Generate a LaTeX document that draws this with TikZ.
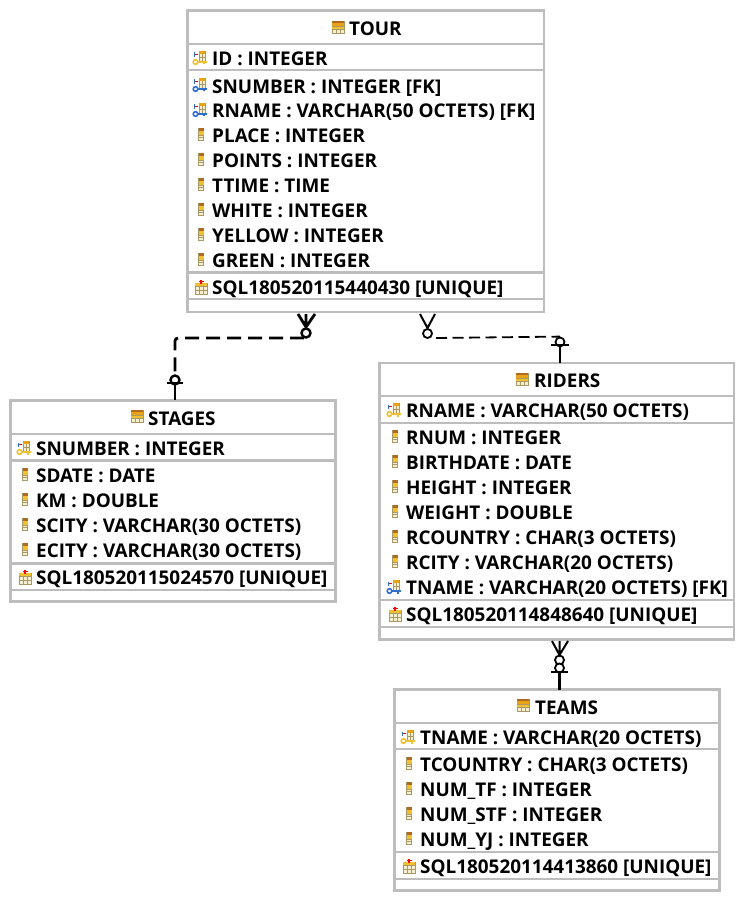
\documentclass[tikz,border=0pt]{standalone}
\usepackage{fontspec}
\setmainfont{Open Sans}
\usetikzlibrary{positioning,calc}
\definecolor{boxline}{HTML}{BDBDBD}
\definecolor{icoorange}{HTML}{E8A317}
\definecolor{icogold}{HTML}{F0C030}
\definecolor{icotan}{HTML}{A89868}
\definecolor{icopale}{HTML}{F6EFD0}
\definecolor{icobrown}{HTML}{B06A20}
\definecolor{icoblue}{HTML}{2F6FD0}
\tikzset{
  tablebox/.style={draw=boxline,line width=2.5pt,fill=white,anchor=north west,inner sep=0pt,outer sep=0pt},
  sepline/.style={draw=boxline,line width=2.2pt},
  title/.style={font=\bfseries\fontsize{18.9}{20}\selectfont,anchor=west,inner sep=0pt,text height=14pt,text depth=4pt,yshift=-2.6pt},
  rowtxt/.style={font=\bfseries\fontsize{18.9}{20}\selectfont,anchor=west,inner sep=0pt,text height=14pt,text depth=4pt,yshift=-2.6pt},
  cardcirc/.style={circle,draw=black,fill=white,inner sep=0pt,minimum size=9pt},
  pics/tableico/.style={code={
    \draw[icotan,fill=icopale,line width=.8pt] (-6,-6) rectangle (6,6);
    \fill[icobrown] (-6,-6) rectangle (6,-4);
    \fill[icoorange] (-6,-4) rectangle (6,-1);
    \fill[icogold] (-6,-1) rectangle (6,2);
    \draw[icotan,line width=.5pt] (-6,2) -- (6,2) (-6,-1) -- (6,-1) (-2,2) -- (-2,6) (2,2) -- (2,6);
  }},
  pics/colico/.style={code={
    \draw[icotan,fill=icopale,line width=.6pt] (-2.5,-6) rectangle (2.5,6);
    \fill[icobrown] (-2.5,-6) rectangle (2.5,-3);
    \fill[icogold] (-2.5,-3) rectangle (2.5,1);
    \draw[icotan,line width=.4pt] (-2.5,1) -- (2.5,1) (-2.5,3.5) -- (2.5,3.5);
  }},
  pics/keyico/.style={code={
    \draw[icotan,fill=icopale,line width=.7pt] (-1,-7) rectangle (5,3);
    \fill[icoorange] (-1,-7) rectangle (5,-4);
    \draw[icotan,line width=.4pt] (2,-4) -- (2,3) (-1,-1) -- (5,-1);
    \draw[red,line width=.8pt] (-6,-3.5) -- (-2,-3.5);
    \draw[icoblue,line width=.8pt] (-6,-5.5) -- (-6,-1);
    \draw[#1,line width=1.6pt] (-4.5,4) circle (2.3);
    \draw[#1,line width=1.8pt] (-2,4) -- (7,4) (4,4) -- (4,6.5);
  }},
  pics/uniqico/.style={code={
    \draw[icotan,fill=icopale,line width=.8pt] (-6,-4) rectangle (6,7);
    \fill[icogold] (-6,-4) rectangle (6,-1);
    \draw[icotan,line width=.5pt] (-6,-1) -- (6,-1) (-6,3) -- (6,3) (-2,-1) -- (-2,7) (2,-1) -- (2,7);
    \draw[red,line width=1.2pt] (0,-7.5) -- (0,-3) (-2.5,-5.5) -- (2.5,-5.5);
  }}
}
\begin{document}
\begin{tikzpicture}[x=1pt,y=-1pt]
\useasboundingbox (0,0) rectangle (750,904);
\fill[white] (0,0) rectangle (750,904);
% boxes
\node[tablebox,minimum width=356.5pt,minimum height=301.5pt] (tour) at (187.3,10.5) {};
\node[tablebox,minimum width=325pt,minimum height=201pt] (stages) at (10.5,400.5) {};
\node[tablebox,minimum width=354.4pt,minimum height=276.7pt] (riders) at (379.6,362.8) {};
\node[tablebox,minimum width=325pt,minimum height=201pt] (teams) at (394.5,689.3) {};
\foreach \y in {43.7,70,272.5,299.3} \draw[sepline] (187.3,\y) -- (543.8,\y);
\foreach \y in {433.9,460.5,563.4,590} \draw[sepline] (10.5,\y) -- (335.5,\y);
\foreach \y in {395.8,423,600,626.7} \draw[sepline] (379.6,\y) -- (734,\y);
\foreach \y in {722.7,749.3,852.2,878.8} \draw[sepline] (394.5,\y) -- (719.5,\y);
% TOUR
\pic at (338,27) {tableico};
\node[title] (tourT) at (349,28) {TOUR};
\pic at (200,58) {keyico=icogold};
\node[rowtxt] (tourA) at (212,58) {ID : INTEGER};
\pic at (200,85) {keyico=icoblue};
\node[rowtxt] (tourB) at (212,86) {SNUMBER : INTEGER [FK]};
\pic at (200,110) {keyico=icoblue};
\node[rowtxt] (tourC) at (212,110) {RNAME : VARCHAR(50 OCTETS) [FK]};
\foreach \y/\nm/\txt in {135/D/PLACE : INTEGER,160/E/POINTS : INTEGER,185/F/TTIME : TIME,210/G/WHITE : INTEGER,235/H/YELLOW : INTEGER,260/I/GREEN : INTEGER}{
  \pic at (201,\y-1) {colico};
  \node[rowtxt] (tour\nm) at (212,\y) {\txt};
}
\pic at (201,287) {uniqico};
\node[rowtxt] (tourU) at (212,287) {SQL180520115440430 [UNIQUE]};
% STAGES
\pic at (137,416) {tableico};
\node[title] (stagesT) at (148,418) {STAGES};
\pic at (24,448) {keyico=icogold};
\node[rowtxt] (stagesA) at (36,448) {SNUMBER : INTEGER};
\foreach \y/\nm/\txt in {475/B/SDATE : DATE,500/C/KM : DOUBLE,525/D/SCITY : VARCHAR(30 OCTETS),550/E/ECITY : VARCHAR(30 OCTETS)}{
  \pic at (25,\y-1) {colico};
  \node[rowtxt] (stages\nm) at (36,\y) {\txt};
}
\pic at (25,577) {uniqico};
\node[rowtxt] (stagesU) at (36,577) {SQL180520115024570 [UNIQUE]};
% RIDERS
\pic at (522,379) {tableico};
\node[title] (ridersT) at (534,380) {RIDERS};
\pic at (394,410) {keyico=icogold};
\node[rowtxt] (ridersA) at (406,410) {RNAME : VARCHAR(50 OCTETS)};
\foreach \y/\nm/\txt in {437/B/RNUM : INTEGER,462/C/BIRTHDATE : DATE,487/D/HEIGHT : INTEGER,512/E/WEIGHT : DOUBLE,537/F/RCOUNTRY : CHAR(3 OCTETS),562/G/RCITY : VARCHAR(20 OCTETS)}{
  \pic at (395,\y-1) {colico};
  \node[rowtxt] (riders\nm) at (406,\y) {\txt};
}
\pic at (394,587) {keyico=icoblue};
\node[rowtxt] (ridersH) at (406,587) {TNAME : VARCHAR(20 OCTETS) [FK]};
\pic at (395,614) {uniqico};
\node[rowtxt] (ridersU) at (406,614) {SQL180520114848640 [UNIQUE]};
% TEAMS
\pic at (523,705) {tableico};
\node[title] (teamsT) at (535,707) {TEAMS};
\pic at (408,737) {keyico=icogold};
\node[rowtxt] (teamsA) at (420,737) {TNAME : VARCHAR(20 OCTETS)};
\foreach \y/\nm/\txt in {764/B/TCOUNTRY : CHAR(3 OCTETS),789/C/NUM\_TF : INTEGER,814/D/NUM\_STF : INTEGER,839/E/NUM\_YJ : INTEGER}{
  \pic at (409,\y-1) {colico};
  \node[rowtxt] (teams\nm) at (420,\y) {\txt};
}
\pic at (409,866) {uniqico};
\node[rowtxt] (teamsU) at (420,866) {SQL180520114413860 [UNIQUE]};
% connectors
\node[cardcirc,line width=2.4pt] (tsMany) at (306,333) {};
\node[cardcirc,line width=2.4pt] (tsOne) at (175,380) {};
\coordinate (tsFoot) at (306,327);
\coordinate (tsMid) at (304,338);
\coordinate (tsBar) at (175,383);
\coordinate (tsEnd) at (175,400);
\draw[line width=2.8pt,dash pattern=on 14pt off 7pt,rounded corners=3pt] (tsMid) -- (175,338) -- (tsOne.north);
\draw[line width=2.8pt] (298,314) -- (tsFoot) -- (315,314) (306,314) -- (tsMany.north);
\draw[line width=2.6pt] (167,383) -- (183,383) (tsBar) -- (tsEnd);
\node[cardcirc,line width=1.8pt] (trMany) at (427.5,333.5) {};
\node[cardcirc,line width=1.8pt] (trOne) at (560,342) {};
\coordinate (trFoot) at (427.5,328);
\coordinate (trBar) at (560,345);
\coordinate (trEnd) at (560,363);
\draw[line width=1.8pt,dash pattern=on 11pt off 5.5pt] (436,338) -- (trOne.north);
\draw[line width=2pt] (420,314) -- (trFoot) -- (435,314) (trFoot) -- (trMany.north);
\draw[line width=2.4pt] (551,345) -- (569,345) (trBar) -- (trEnd);
\node[cardcirc,line width=1.8pt] (rtManyA) at (559.5,660) {};
\node[cardcirc,line width=1.8pt] (rtManyB) at (559.5,668) {};
\coordinate (rtFoot) at (559.5,655);
\coordinate (rtBar) at (559.5,672);
\coordinate (rtEnd) at (559.5,690);
\draw[line width=2pt] (552,641) -- (rtFoot) -- (568,641) (559.5,641) -- (rtManyA.north);
\draw[line width=2.4pt] (551,672) -- (568,672) (rtBar) -- (rtEnd);
\end{tikzpicture}
\end{document}
